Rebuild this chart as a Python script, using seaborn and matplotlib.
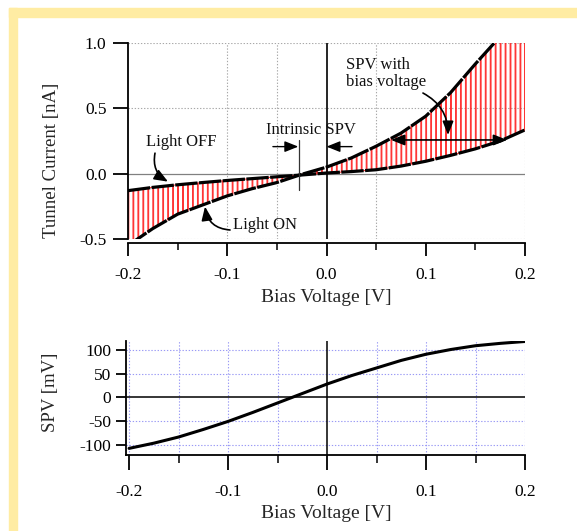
import numpy as np
import pandas as pd
import matplotlib
matplotlib.use("Agg")
import matplotlib.pyplot as plt
from matplotlib.patches import Rectangle
import seaborn as sns

# ---- measured curves -------------------------------------------------------
bias_v = [-0.2, -0.175, -0.15, -0.125, -0.1, -0.075, -0.05, -0.025, 0.0,
          0.025, 0.05, 0.075, 0.1, 0.125, 0.15, 0.175, 0.2]
current_off = [-0.13, -0.105, -0.085, -0.068, -0.052, -0.038, -0.024, -0.01, 0.005,
               0.016, 0.03, 0.058, 0.095, 0.14, 0.19, 0.25, 0.335]
current_on = [-0.55, -0.42, -0.31, -0.24, -0.17, -0.115, -0.068, -0.005, 0.05,
              0.12, 0.21, 0.31, 0.44, 0.62, 0.84, 1.05, 1.3]
spv_mv = [-108, -97, -84, -68, -51, -32, -12, 8, 28,
          46, 62, 78, 91, 101, 109, 114, 118]

x_ticks = [-0.2, -0.1, 0.0, 0.1, 0.2]
x_tick_labels = ["-0.2", "-0.1", "0.0", "0.1", "0.2"]
x_minor = [-0.15, -0.05, 0.05, 0.15]
i_ticks = [-0.5, 0.0, 0.5, 1.0]
i_tick_labels = ["-0.5", "0.0", "0.5", "1.0"]
spv_ticks = [-100, -50, 0, 50, 100]

# chopped-light trace: the tip current toggles between dark and illuminated curves
chop_period = 0.005

sns.set_theme(style="ticks")
plt.rcParams["font.family"] = ["Liberation Serif", "DejaVu Serif"]
plt.rcParams["axes.unicode_minus"] = False
plt.rcParams["text.color"] = "#111111"

fig = plt.figure(figsize=(5.77, 5.31), dpi=100)
fig.patch.set_facecolor("white")
W, H = 577.0, 531.0

# pale yellow frame on the top and left edges
frame_col = "#FFECA3"
fig.patches.append(Rectangle((9 / W, 1 - 17 / H), 1 - 9 / W, 9 / H,
                             transform=fig.transFigure, color=frame_col, zorder=0))
fig.patches.append(Rectangle((9 / W, 0), 8 / W, 1 - 8 / H,
                             transform=fig.transFigure, color=frame_col, zorder=0))

def px_axes(x0, y0, x1, y1):
    return fig.add_axes([x0 / W, 1 - y1 / H, (x1 - x0) / W, (y1 - y0) / H])

# ---------------- top panel: I-V curves ----------------
ax1 = px_axes(128, 43, 525, 239)
ax1.set_facecolor("none")

bv = np.array(bias_v)
chop_v = np.arange(bias_v[0], bias_v[-1] + 1e-9, chop_period)
tx, ty = [], []
for v in chop_v:
    lo = np.interp(v, bv, current_off)
    hi = np.interp(v, bv, current_on)
    v2 = min(v + 0.0008, bias_v[-1])
    hi2 = np.interp(v2, bv, current_on)
    lo2 = np.interp(v2, bv, current_off)
    tx += [v, v, v2, v2]
    ty += [lo, hi, hi2, lo2]
trace = pd.DataFrame({"v": tx, "i": ty})
sns.lineplot(data=trace, x="v", y="i", sort=False, estimator=None, ax=ax1,
             color="#FF2020", lw=0.75, alpha=0.9, zorder=2)

curves = pd.DataFrame({"v": bias_v * 2,
                       "i": current_off + current_on,
                       "state": ["off"] * len(bias_v) + ["on"] * len(bias_v)})
sns.lineplot(data=curves, x="v", y="i", units="state", estimator=None, ax=ax1,
             color="black", lw=2.3, zorder=4)
for ln in ax1.lines[-2:]:
    ln.set_dashes((7, 0.45))

grid_kw = dict(color="#A8A8A8", lw=0.8, ls=(0, (1.2, 1.6)), zorder=1)
for gx in [-0.1, -0.05, 0.05, 0.2]:
    ax1.axvline(gx, **grid_kw)
for gy in [1.0, 0.5, -0.5]:
    ax1.axhline(gy, **grid_kw)
ax1.axhline(0.0, color="#808080", lw=0.9, zorder=1)
ax1.axvline(0.0, color="black", lw=1.2, zorder=3)

ax1.set_xlim(-0.2, 0.2)
ax1.set_ylim(-0.5, 1.0)
ax1.set_xticks(x_ticks)
ax1.set_xticklabels(x_tick_labels)
ax1.set_xticks(x_minor, minor=True)
ax1.set_yticks(i_ticks)
ax1.set_yticklabels(i_tick_labels)
sns.despine(ax=ax1)
ax1.spines["bottom"].set_position(("outward", 3))
for s in ["left", "bottom"]:
    ax1.spines[s].set_linewidth(1.3)
    ax1.spines[s].set_color("black")
ax1.tick_params(axis="x", which="major", length=9.5, width=1.3, labelsize=12.5, pad=7.5, colors="black")
ax1.tick_params(axis="x", which="minor", length=5, width=1.3)
ax1.tick_params(axis="y", which="major", length=10.5, width=1.3, labelsize=12.5, pad=5, colors="black")
ax1.set_xlabel("Bias Voltage [V]", fontsize=14)
ax1.set_ylabel("Tunnel Current [nA]", fontsize=13.5)
ax1.xaxis.label.set_va("center")
ax1.xaxis.set_label_coords(0.5, (239 - 298) / 196)
ax1.yaxis.label.set_va("center")
ax1.yaxis.set_label_coords((52 - 128) / 397, (239 - 160) / 196)

# annotations
ann_fs = 12
head = "-|>,head_length=0.55,head_width=0.22"
ax1.text(-0.146, 0.245, "Light OFF", ha="center", va="center", fontsize=ann_fs, zorder=6)
ax1.annotate("", xy=(-0.1597, -0.061), xytext=(-0.1728, 0.157),
             arrowprops=dict(arrowstyle=head, mutation_scale=15, color="black", lw=1.2,
                             connectionstyle="arc3,rad=0.35", shrinkA=0, shrinkB=0), zorder=6)
ax1.text(-0.062, -0.392, "Light ON", ha="center", va="center", fontsize=ann_fs, zorder=6)
ax1.annotate("", xy=(-0.1224, -0.252), xytext=(-0.0972, -0.431),
             arrowprops=dict(arrowstyle=head, mutation_scale=15, color="black", lw=1.2,
                             connectionstyle="arc3,rad=-0.4", shrinkA=0, shrinkB=0), zorder=6)
ax1.text(0.0197, 0.765, "SPV with\nbias voltage", ha="left", va="center",
         fontsize=ann_fs, linespacing=1.1, zorder=6)
ax1.annotate("", xy=(0.1224, 0.296), xytext=(0.0972, 0.617),
             arrowprops=dict(arrowstyle=head, mutation_scale=15, color="black", lw=1.2,
                             connectionstyle="arc3,rad=-0.3", shrinkA=0, shrinkB=0), zorder=6)
ax1.annotate("", xy=(0.065, 0.258), xytext=(0.182, 0.258),
             arrowprops=dict(arrowstyle="<|-|>,head_length=0.55,head_width=0.22",
                             mutation_scale=15, color="black", lw=1.2, shrinkA=0, shrinkB=0),
             zorder=6)
ax1.text(-0.016, 0.334, "Intrinsic SPV", ha="center", va="center", fontsize=ann_fs, zorder=6)
ax1.annotate("", xy=(-0.0284, 0.207), xytext=(-0.054, 0.207),
             arrowprops=dict(arrowstyle=head, mutation_scale=15, color="black", lw=1.0,
                             shrinkA=0, shrinkB=0), zorder=6)
ax1.annotate("", xy=(0.0, 0.207), xytext=(0.0257, 0.207),
             arrowprops=dict(arrowstyle=head, mutation_scale=15, color="black", lw=1.0,
                             shrinkA=0, shrinkB=0), zorder=6)
ax1.plot([-0.0274, -0.0274], [0.258, -0.125], color="#333333", lw=0.9, zorder=5)

# ---------------- bottom panel: SPV vs bias ----------------
ax2 = px_axes(125.7, 341, 525, 455)
ax2.set_facecolor("none")
spv_df = pd.DataFrame({"v": bias_v, "spv": spv_mv})
grid2 = dict(color="#9A9AF5", lw=0.8, ls=(0, (1.2, 1.6)), zorder=1)
for gx in [-0.2, -0.15, -0.1, -0.05, 0.05, 0.1, 0.15, 0.2]:
    ax2.axvline(gx, **grid2)
for gy in [-100, -50, 50, 100]:
    ax2.axhline(gy, **grid2)
ax2.axhline(0, color="black", lw=1.1, zorder=2)
ax2.axvline(0, color="black", lw=1.1, zorder=2)
sns.lineplot(data=spv_df, x="v", y="spv", ax=ax2, color="black", lw=2.2, zorder=4)

ax2.set_xlim(-0.2034, 0.2)
ax2.set_ylim(-122, 119)
ax2.set_xticks(x_ticks)
ax2.set_xticklabels(x_tick_labels)
ax2.set_xticks(x_minor, minor=True)
ax2.set_yticks(spv_ticks)
ax2.set_yticklabels([str(t) for t in spv_ticks])
sns.despine(ax=ax2)
for s in ["left", "bottom"]:
    ax2.spines[s].set_linewidth(1.3)
    ax2.spines[s].set_color("black")
ax2.tick_params(axis="x", which="major", length=10.5, width=1.3, labelsize=12.5, pad=10.5, colors="black")
ax2.tick_params(axis="x", which="minor", length=6, width=1.3)
ax2.tick_params(axis="y", which="major", length=7.5, width=1.3, labelsize=12.5, pad=3, colors="black")
ax2.set_xlabel("Bias Voltage [V]", fontsize=14)
ax2.set_ylabel("SPV [mV]", fontsize=13.5)
ax2.xaxis.label.set_va("center")
ax2.xaxis.set_label_coords((326 - 125.7) / 399.3, (455 - 513) / 114)
ax2.yaxis.label.set_va("center")
ax2.yaxis.set_label_coords((50 - 125.7) / 399.3, (455 - 392) / 114)

fig.savefig("out.png", dpi=100, facecolor="white")
